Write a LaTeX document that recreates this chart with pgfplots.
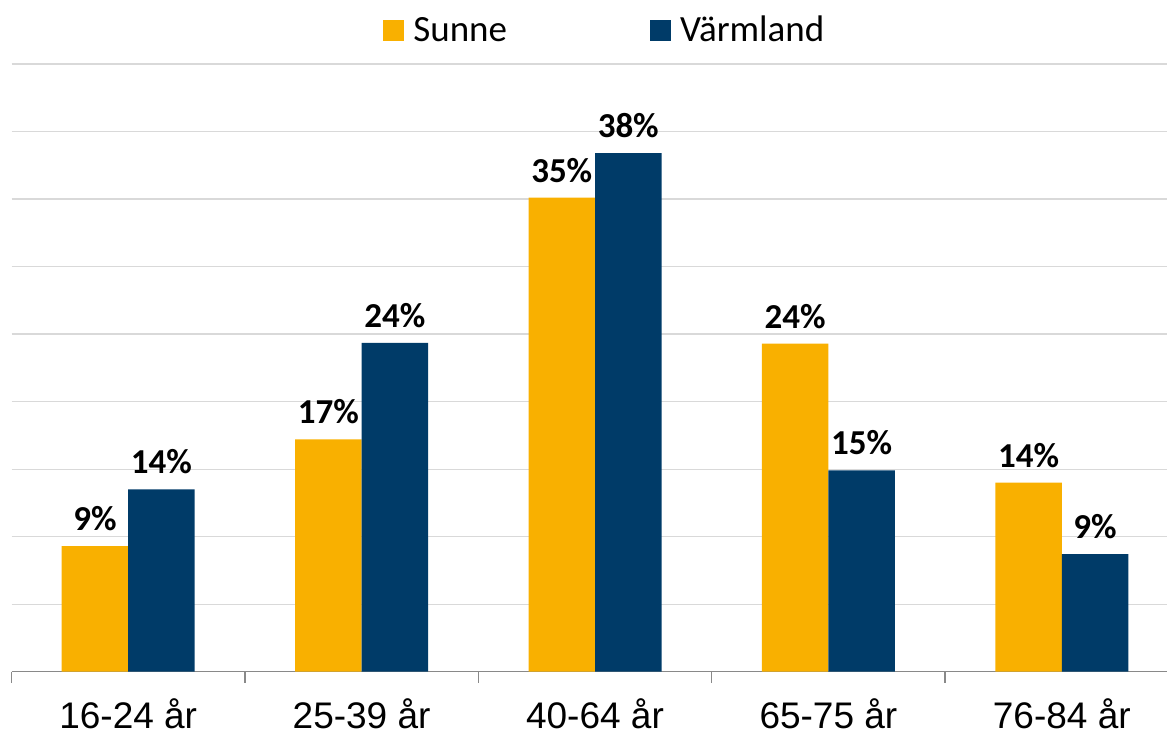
\documentclass[border=0pt]{standalone}
\usepackage{fontspec}
\setmainfont{Liberation Sans}
\newfontfamily\carlito{Carlito}
\usepackage{pgfplots}
\pgfplotsset{compat=1.18}
\usepackage{pgfplotstable}
\definecolor{sunne}{HTML}{F9B000}
\definecolor{varm}{HTML}{003B68}
\definecolor{gridgray}{HTML}{D9D9D9}
\definecolor{axisgray}{HTML}{898989}
\pgfplotstableread{
x y lab
0 9.3 9
1 17.2 17
2 35.1 35
3 24.3 24
4 14.0 14
}\sunnedata
\pgfplotstableread{
x y lab
0 13.5 14
1 24.35 24
2 38.4 38
3 14.9 15
4 8.7 9
}\varmdata
\begin{document}
\begin{tikzpicture}
\useasboundingbox (0,0) rectangle (583.5bp,365.5bp);
\begin{axis}[
  at={(5.75bp,29.65bp)}, anchor=south west,
  scale only axis, width=583.5bp, height=303.85bp,
  xmin=-0.5, xmax=4.5, ymin=0, ymax=45,
  ybar=0pt, bar width=33.25bp,
  axis x line*=bottom, axis y line*=left,
  y axis line style={draw=none},
  ytick={0,5,...,45}, yticklabels={}, ytick style={draw=none},
  ymajorgrids, grid style={color=gridgray, line width=0.6bp},
  xtick={0,...,4},
  xticklabels={16-24 år,25-39 år,40-64 år,65-75 år,76-84 år},
  major tick length=0pt,
  minor xtick={-0.5,0.5,...,4.5}, minor tick length=5.5bp,
  tick align=outside,
  minor x tick style={color=axisgray, line width=0.75bp},
  x axis line style={color=axisgray, line width=0.75bp, -},
  xticklabel style={font=\fontsize{18.5bp}{22bp}\selectfont, anchor=base, yshift=-28.5bp},
  nodes near coords={\pgfplotspointmeta\%},
  point meta=explicit symbolic,
  nodes near coords style={font=\carlito\bfseries\fontsize{17.5bp}{20bp}\selectfont, anchor=base, yshift=7.75bp, text=black},
  legend style={draw=none, fill=none, inner sep=0pt,
    at={(axis description cs:0.3183,1.055)}, anchor=west,
    font=\carlito\fontsize{18.5bp}{22bp}\selectfont,
    /tikz/every odd column/.style={column sep=4.5bp},
    /tikz/every even column/.style={column sep=71.5bp},
    nodes={inner sep=0pt}},
  legend columns=2,
  legend cell align=left,
  legend image code/.code={\fill[#1] (0bp,-5.25bp) rectangle (10.5bp,5.25bp);},
]
\addplot[fill=sunne, draw=none] table[x=x, y=y, meta=lab] {\sunnedata};
\addplot[fill=varm, draw=none] table[x=x, y=y, meta=lab] {\varmdata};
\legend{Sunne, Värmland}
\end{axis}
\end{tikzpicture}
\end{document}
